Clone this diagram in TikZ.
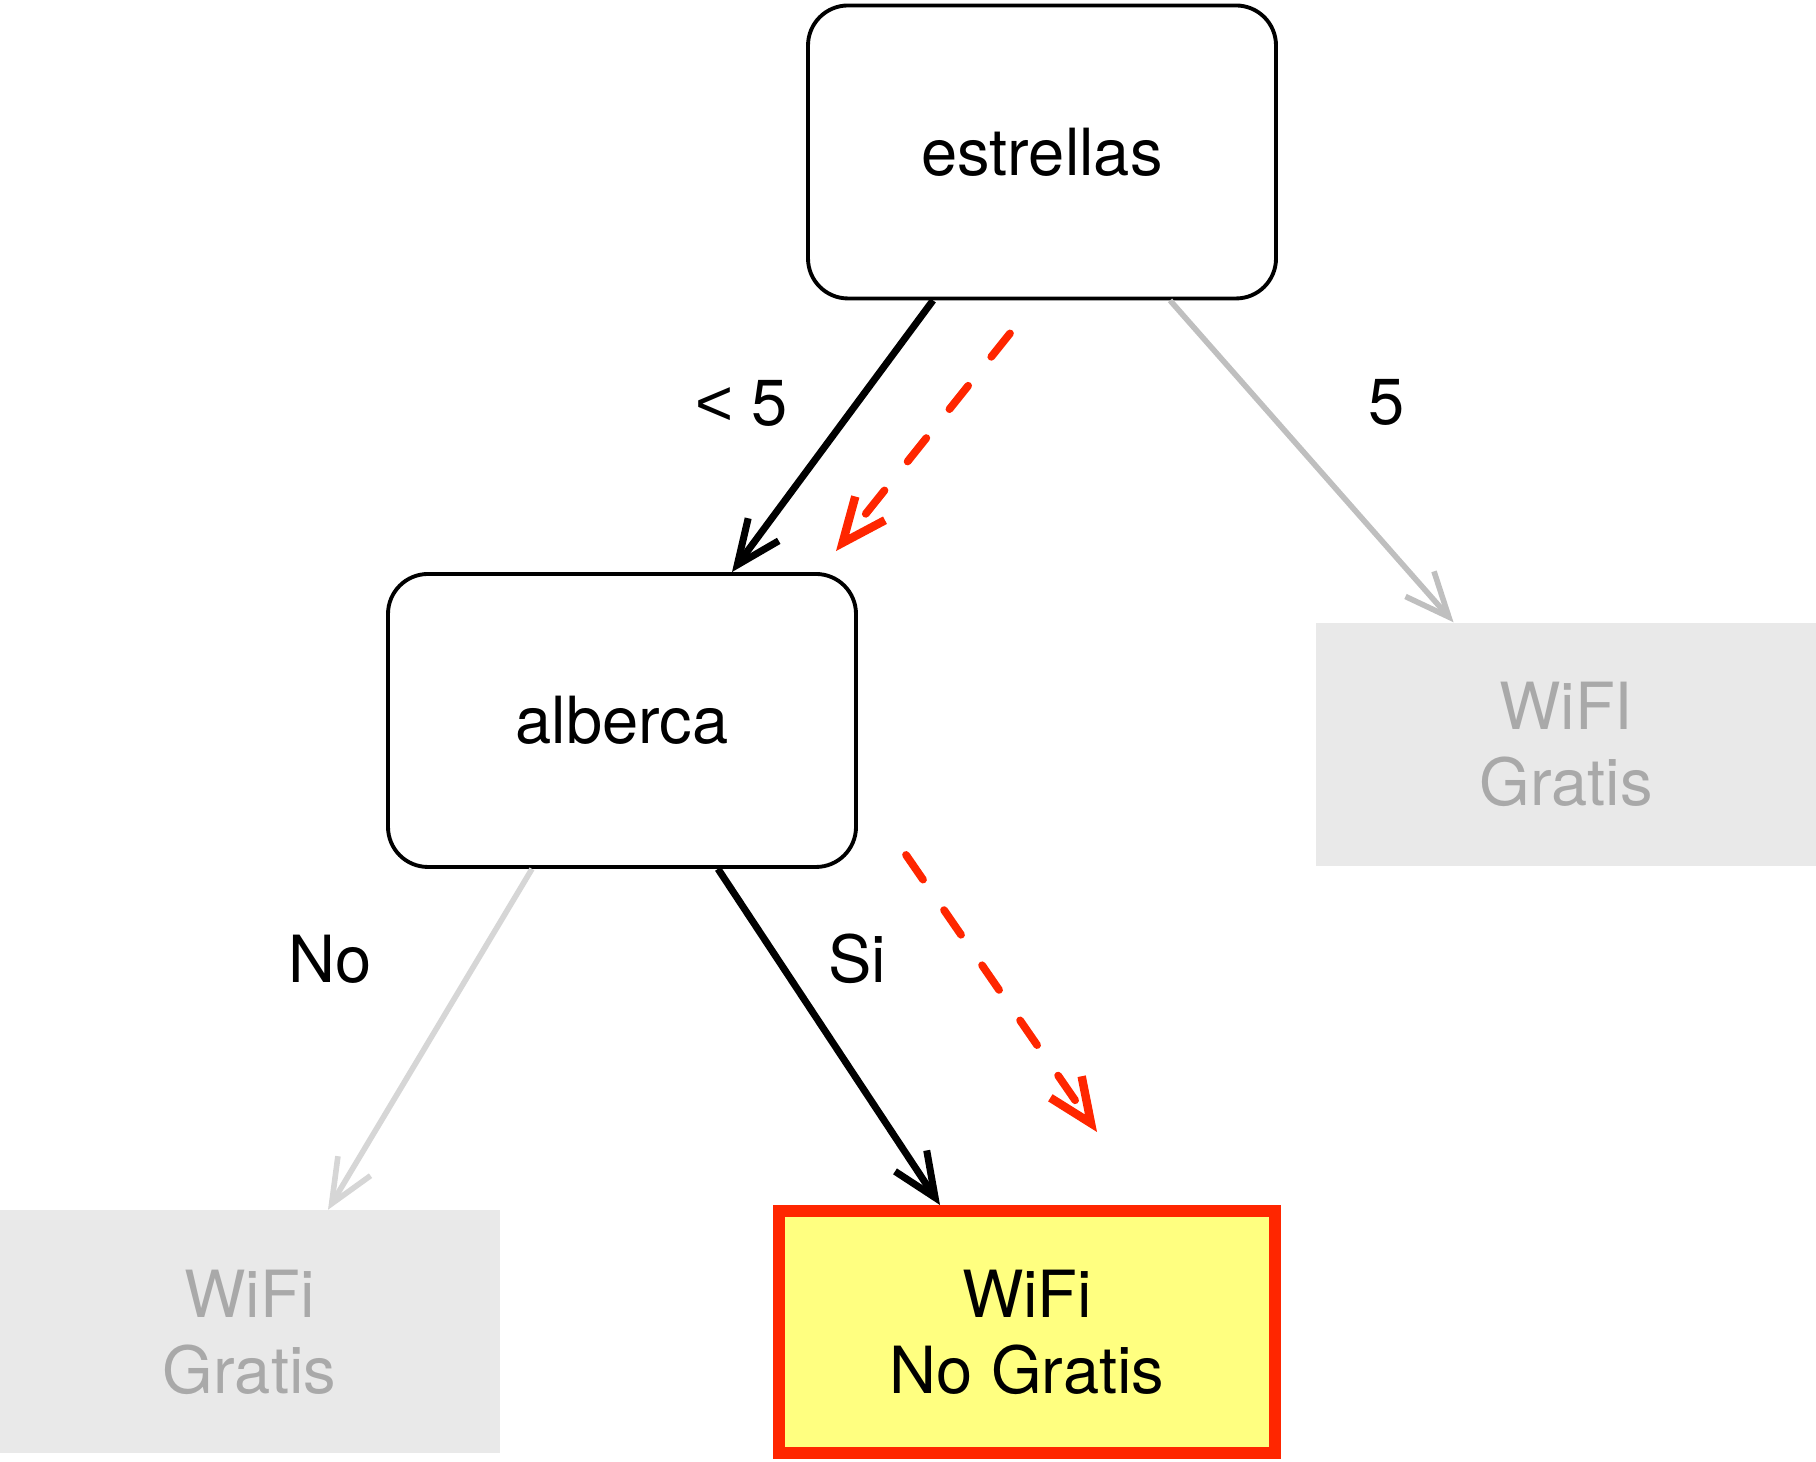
\documentclass[tikz,border=0pt]{standalone}
\usepackage{fontspec}
\setmainfont{TeX Gyre Heros}
\newfontfamily\lessfont{Liberation Sans}
\usetikzlibrary{arrows.meta}
\definecolor{pathred}{HTML}{FF2600}
\definecolor{chosenyellow}{HTML}{FFFF80}
\definecolor{leafgray}{HTML}{E9E9E9}
\definecolor{leaftext}{HTML}{A9A9A9}
\definecolor{farline}{HTML}{BFBFBF}
\definecolor{nearline}{HTML}{D6D6D6}
\begin{document}
\begin{tikzpicture}[
  every node/.style={font=\fontsize{18.5}{21.6}\selectfont},
  decision/.style={rectangle, rounded corners=0.4cm, draw, line width=1.1pt, minimum width=4.68cm, minimum height=2.93cm},
  leaf/.style={rectangle, fill=leafgray, text=leaftext, minimum width=5cm, minimum height=2.43cm, align=center},
  chosen/.style={rectangle, draw=pathred, line width=3.4pt, fill=chosenyellow, minimum width=4.96cm, minimum height=2.42cm, align=center},
  branch/.style={-{Straight Barb[length=0.44cm, width=0.38cm, sharp]}, line width=2pt},
  trail/.style={-{Straight Barb[length=0.44cm, width=0.38cm, sharp, line width=2.4pt]}, pathred, line width=2.2pt, dash pattern=on 0.30cm off 0.37cm, line cap=round}
]
  \useasboundingbox (0,0) rectangle (18.16,14.62);

  \node[decision] (estrellas) at (10.42,13.10) {estrellas};
  \node[decision] (alberca) at (6.22,7.415) {alberca};
  \node[leaf] (gratis5) at (15.66,7.175) {WiFI\\Gratis};
  \node[leaf] (gratisno) at (2.495,1.30) {WiFi\\Gratis};
  \node[chosen] (nogratis) at (10.27,1.30) {WiFi\\No Gratis};

  \draw[branch] ([xshift=-1.09cm]estrellas.south) -- ([xshift=1.10cm]alberca.north);
  \draw[branch, farline, line width=1.6pt] ([xshift=1.28cm]estrellas.south) -- ([xshift=-1.125cm]gratis5.north);
  \draw[branch, nearline, line width=1.6pt] ([xshift=-0.90cm]alberca.south) -- ([xshift=0.785cm]gratisno.north);
  \draw[branch] ([xshift=0.96cm]alberca.south) -- ([xshift=-0.87cm]nogratis.north);

  \coordinate (trail1a) at ([xshift=-0.32cm, yshift=-0.33cm]estrellas.south);
  \coordinate (trail1b) at ([xshift=2.14cm, yshift=0.21cm]alberca.north);
  \coordinate (trail2a) at ([xshift=2.84cm, yshift=0.14cm]alberca.south);
  \coordinate (trail2b) at ([xshift=0.70cm, yshift=0.73cm]nogratis.north);
  \draw[trail] (trail1a) -- (trail1b);
  \draw[trail] (trail2a) -- (trail2b);

  \node (menor) at (7.42,10.59) {{\lessfont<} 5};
  \node (cinco) at (13.87,10.60) {5};
  \node (sinalb) at (3.30,5.03) {No};
  \node (conalb) at (8.57,5.03) {Si};
\end{tikzpicture}
\end{document}
